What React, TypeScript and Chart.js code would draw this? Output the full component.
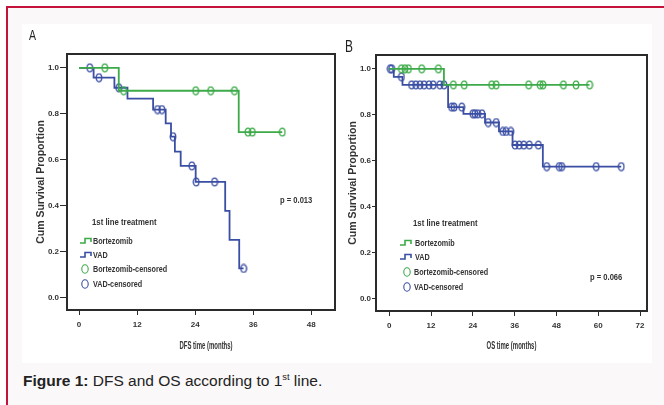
import React, { useEffect, useRef } from 'react';
import { Chart, registerables } from 'chart.js';

Chart.register(...registerables);

// ---------- shared ----------
const survYTicks = [0, 0.2, 0.4, 0.6, 0.8, 1.0];
const legendTitle = '1st line treatment';
const legendLabels = ['Bortezomib', 'VAD', 'Bortezomib-censored', 'VAD-censored'];
const yTitle = 'Cum Survival Proportion';

// ---------- Panel A : DFS ----------
const dfsXTicks = [0, 12, 24, 36, 48];
const dfsBortTimes = [0, 8.2, 33.0, 42.0];
const dfsBortSurv = [1.0, 0.9, 0.72, 0.72];
const dfsBortCensored = [5.3, 9.2, 24.1, 27.2, 32.1, 34.9, 35.8, 42.0];
const dfsVadTimes = [0, 3.0, 7.3, 10.0, 15.3, 17.9, 19.0, 19.8, 21.0, 24.1, 30.2, 31.1, 33.1, 34.0];
const dfsVadSurv = [1.0, 0.957, 0.913, 0.866, 0.818, 0.758, 0.7, 0.635, 0.573, 0.503, 0.377, 0.25, 0.126, 0.126];
const dfsVadCensored = [2.2, 4.1, 8.2, 16.2, 17.1, 19.4, 23.3, 24.2, 28.0, 34.0];
const dfsP = 'p = 0.013';

// ---------- Panel B : OS ----------
const osXTicks = [0, 12, 24, 36, 48, 60, 72];
const osBortTimes = [0, 15.7, 57.5];
const osBortSurv = [1.0, 0.93, 0.93];
const osBortCensored = [3.5, 4.5, 5.5, 9.3, 14.1, 18.4, 21.5, 29.4, 30.7, 40.0, 43.3, 44.1, 50.0, 53.6, 57.5];
const osVadTimes = [0, 1.3, 3.8, 16.9, 21.3, 27.5, 31.5, 35.4, 44.1, 66.6];
const osVadSurv = [1.0, 0.965, 0.93, 0.833, 0.804, 0.766, 0.727, 0.668, 0.574, 0.574];
const osVadCensored = [0.3, 0.7, 3.5, 6.4, 7.6, 8.8, 10.0, 11.4, 12.6, 14.5, 15.7, 17.9, 18.6, 20.8, 24.0, 24.6, 25.4, 26.6, 28.4, 30.7, 32.6, 33.5, 34.9, 36.1, 37.3, 38.6, 40.2, 42.8, 45.2, 48.8, 49.5, 59.4, 66.6];
const osP = 'p = 0.066';

const GREEN = '#3caa48';
const BLUE = '#3a4ea3';
const INK = '#2b2b2b';
const TXT = '#333333';
const SANS = "'Liberation Sans', Arial, sans-serif";

function stepPoints(times: number[], surv: number[]) {
  return times.map((t, i) => ({ x: t, y: surv[i] }));
}

function survAt(times: number[], surv: number[], t: number) {
  let v = surv[0];
  for (let i = 0; i < times.length; i++) {
    if (times[i] <= t + 1e-9) v = surv[i];
  }
  return v;
}

function censorPoints(times: number[], surv: number[], cens: number[]) {
  return cens.map((t) => ({ x: t, y: survAt(times, surv, t) }));
}

function ellipseMarker(color: string) {
  const c = document.createElement('canvas');
  c.width = 8;
  c.height = 10;
  const ctx = c.getContext('2d')!;
  ctx.strokeStyle = color;
  ctx.lineWidth = 1.3;
  ctx.beginPath();
  ctx.ellipse(4, 5, 2.8, 3.9, 0, 0, Math.PI * 2);
  ctx.stroke();
  return c;
}

function condText(ctx: CanvasRenderingContext2D, text: string, x: number, y: number, sx: number, align: CanvasTextAlign) {
  ctx.save();
  ctx.translate(x, y);
  ctx.scale(sx, 1);
  ctx.textAlign = align;
  ctx.fillText(text, 0, 0);
  ctx.restore();
}

interface PanelSpec {
  xTicks: number[];
  xMin: number;
  xMax: number;
  xTitle: string;
  xTitleDx: number;
  bort: { t: number[]; s: number[]; c: number[] };
  vad: { t: number[]; s: number[]; c: number[] };
  padding: { left: number; top: number; right: number; bottom: number };
  yWidth: number;
  xHeight: number;
  yTickLen: number;
  yTickPad: number;
  legend: { titleDx: number; titleDy: number; iconDx: number; textDx: number; circDx: number; circTextDx: number; rows: number[] };
  p: { text: string; dx: number; dy: number };
}

function annotPlugin(spec: PanelSpec) {
  return {
    id: 'annot',
    afterDatasetsDraw(chart: any) {
      const { ctx, chartArea: ca } = chart;
      ctx.save();
      // plot frame
      ctx.strokeStyle = INK;
      ctx.lineWidth = 2;
      ctx.strokeRect(ca.left, ca.top, ca.right - ca.left, ca.bottom - ca.top);

      const L = spec.legend;
      const x0 = ca.left;
      const y0 = ca.top;
      ctx.fillStyle = TXT;
      ctx.textBaseline = 'middle';
      ctx.font = `bold 9.5px ${SANS}`;
      condText(ctx, legendTitle, x0 + L.titleDx, y0 + L.titleDy, 0.82, 'left');

      ctx.font = `bold 9.5px ${SANS}`;
      const colors = [GREEN, BLUE];
      for (let i = 0; i < 2; i++) {
        const yy = y0 + L.rows[i];
        const xx = x0 + L.iconDx;
        ctx.strokeStyle = colors[i];
        ctx.lineWidth = 1.6;
        ctx.beginPath();
        ctx.moveTo(xx, yy + 2);
        ctx.lineTo(xx + 5, yy + 2);
        ctx.lineTo(xx + 5, yy - 2.5);
        ctx.lineTo(xx + 11, yy - 2.5);
        ctx.lineTo(xx + 11, yy + 1);
        ctx.stroke();
        ctx.fillStyle = TXT;
        condText(ctx, legendLabels[i], x0 + L.textDx, yy, 0.76, 'left');
      }
      for (let i = 0; i < 2; i++) {
        const yy = y0 + L.rows[i + 2];
        ctx.strokeStyle = colors[i];
        ctx.lineWidth = 1.1;
        ctx.beginPath();
        ctx.ellipse(x0 + L.circDx, yy, 3.2, 4.3, 0, 0, Math.PI * 2);
        ctx.stroke();
        ctx.fillStyle = TXT;
        condText(ctx, legendLabels[i + 2], x0 + L.circTextDx, yy, 0.76, 'left');
      }
      ctx.font = `bold 9.5px ${SANS}`;
      condText(ctx, spec.p.text, x0 + spec.p.dx, y0 + spec.p.dy, 0.8, 'left');

      // x-axis title (condensed, as in the source figure)
      ctx.font = `bold 10.5px ${SANS}`;
      condText(ctx, spec.xTitle, (ca.left + ca.right) / 2 + spec.xTitleDx, 322, 0.57, 'center');
      ctx.restore();
    },
  };
}

function buildConfig(spec: PanelSpec): any {
  const tickFont = { family: SANS, size: 8, weight: 'bold' as const };
  return {
    type: 'line',
    data: {
      datasets: [
        {
          label: 'Bortezomib',
          data: stepPoints(spec.bort.t, spec.bort.s),
          stepped: 'before',
          borderColor: GREEN,
          borderWidth: 1.8,
          pointRadius: 0,
          fill: false,
          order: 1,
        },
        {
          label: 'VAD',
          data: stepPoints(spec.vad.t, spec.vad.s),
          stepped: 'before',
          borderColor: BLUE,
          borderWidth: 1.8,
          pointRadius: 0,
          fill: false,
          order: 3,
        },
        {
          label: 'Bortezomib-censored',
          data: censorPoints(spec.bort.t, spec.bort.s, spec.bort.c),
          showLine: false,
          pointStyle: ellipseMarker(GREEN),
          pointRadius: 3,
          order: 0,
        },
        {
          label: 'VAD-censored',
          data: censorPoints(spec.vad.t, spec.vad.s, spec.vad.c),
          showLine: false,
          pointStyle: ellipseMarker(BLUE),
          pointRadius: 3,
          order: 2,
        },
      ],
    },
    options: {
      animation: false,
      responsive: false,
      events: [],
      layout: { padding: spec.padding },
      plugins: { legend: { display: false }, tooltip: { enabled: false }, title: { display: false } },
      scales: {
        x: {
          type: 'linear',
          min: spec.xMin,
          max: spec.xMax,
          afterBuildTicks: (s: any) => {
            s.ticks = spec.xTicks.map((v) => ({ value: v }));
          },
          afterFit: (s: any) => {
            s.height = spec.xHeight;
          },
          grid: { display: true, drawOnChartArea: false, drawTicks: true, tickLength: 5, tickColor: INK, color: INK },
          border: { display: true, color: INK, width: 2 },
          ticks: { font: tickFont, color: TXT, padding: 5, maxRotation: 0, autoSkip: false, callback: (v: any) => String(v) },
          title: { display: false },
        },
        y: {
          type: 'linear',
          min: -0.055,
          max: 1.06,
          afterBuildTicks: (s: any) => {
            s.ticks = survYTicks.map((v) => ({ value: v }));
          },
          afterFit: (s: any) => {
            s.width = spec.yWidth;
          },
          grid: { display: true, drawOnChartArea: false, drawTicks: true, tickLength: spec.yTickLen, tickColor: INK, color: INK },
          border: { display: true, color: INK, width: 2 },
          ticks: { font: tickFont, color: TXT, padding: spec.yTickPad, callback: (v: any) => Number(v).toFixed(1) },
          title: { display: true, text: yTitle, font: { family: SANS, size: 10.5, weight: 'bold' }, color: TXT, padding: 0 },
        },
      },
    },
    plugins: [annotPlugin(spec)],
  };
}

const panelA: PanelSpec = {
  xTicks: dfsXTicks,
  xMin: -2.5,
  xMax: 52.9,
  xTitle: 'DFS time (months)',
  xTitleDx: 5,
  bort: { t: dfsBortTimes, s: dfsBortSurv, c: dfsBortCensored },
  vad: { t: dfsVadTimes, s: dfsVadSurv, c: dfsVadCensored },
  padding: { left: 13, top: 30, right: 3, bottom: 11 },
  yWidth: 32,
  xHeight: 42,
  yTickLen: 7,
  yTickPad: 1,
  legend: { titleDx: 25, titleDy: 168, iconDx: 13, textDx: 26, circDx: 18, circTextDx: 26, rows: [187, 201, 215, 230] },
  p: { text: dfsP, dx: 213, dy: 146 },
};

const panelB: PanelSpec = {
  xTicks: osXTicks,
  xMin: -3.8,
  xMax: 74,
  xTitle: 'OS time (months)',
  xTitleDx: 0,
  bort: { t: osBortTimes, s: osBortSurv, c: osBortCensored },
  vad: { t: osVadTimes, s: osVadSurv, c: osVadCensored },
  padding: { left: 7, top: 31, right: 5, bottom: 11 },
  yWidth: 29,
  xHeight: 41,
  yTickLen: 4,
  yTickPad: 1,
  legend: { titleDx: 37, titleDy: 168, iconDx: 24, textDx: 39, circDx: 31, circTextDx: 38, rows: [188, 202, 217, 232] },
  p: { text: osP, dx: 214, dy: 222 },
};

export default function App() {
  const refA = useRef<HTMLCanvasElement>(null);
  const refB = useRef<HTMLCanvasElement>(null);

  useEffect(() => {
    const a = new Chart(refA.current as HTMLCanvasElement, buildConfig(panelA));
    const b = new Chart(refB.current as HTMLCanvasElement, buildConfig(panelB));
    return () => {
      a.destroy();
      b.destroy();
    };
  }, []);

  return (
    <div style={{ position: 'fixed', left: 0, top: 0, width: 664, height: 405, background: '#ffffff', overflow: 'hidden' }}>
      <div
        style={{
          position: 'absolute',
          left: 6,
          top: 6,
          right: 0,
          bottom: 0,
          background: '#fbf8f9',
          borderTop: '2px solid #c4123a',
          borderLeft: '2px solid #c4123a',
        }}
      />
      <div style={{ position: 'absolute', left: 22, top: 24, width: 630, height: 339, background: '#ffffff' }} />
      <div style={{ position: 'absolute', left: 22, top: 24, width: 318, height: 339 }}>
        <canvas ref={refA} width={318} height={339} style={{ display: 'block', width: 318, height: 339 }} />
      </div>
      <div style={{ position: 'absolute', left: 340, top: 24, width: 312, height: 339 }}>
        <canvas ref={refB} width={312} height={339} style={{ display: 'block', width: 312, height: 339 }} />
      </div>
      <div style={{ position: 'absolute', left: 29, top: 27, fontFamily: SANS, fontSize: 14, color: '#222', lineHeight: '16px', transform: 'scaleX(0.75)', transformOrigin: 'left top' }}>A</div>
      <div style={{ position: 'absolute', left: 345, top: 37, fontFamily: SANS, fontSize: 17, color: '#222', lineHeight: '19px', transform: 'scaleX(0.7)', transformOrigin: 'left top' }}>B</div>
      <div
        style={{
          position: 'absolute',
          left: 23,
          top: 371,
          fontFamily: SANS,
          fontSize: 15.5,
          color: '#222',
          lineHeight: '19px',
          whiteSpace: 'nowrap',
        }}
      >
        <b>Figure 1:</b> DFS and OS according to 1<sup style={{ fontSize: '0.6em', lineHeight: 0, verticalAlign: '0.6em' }}>st</sup> line.
      </div>
    </div>
  );
}
